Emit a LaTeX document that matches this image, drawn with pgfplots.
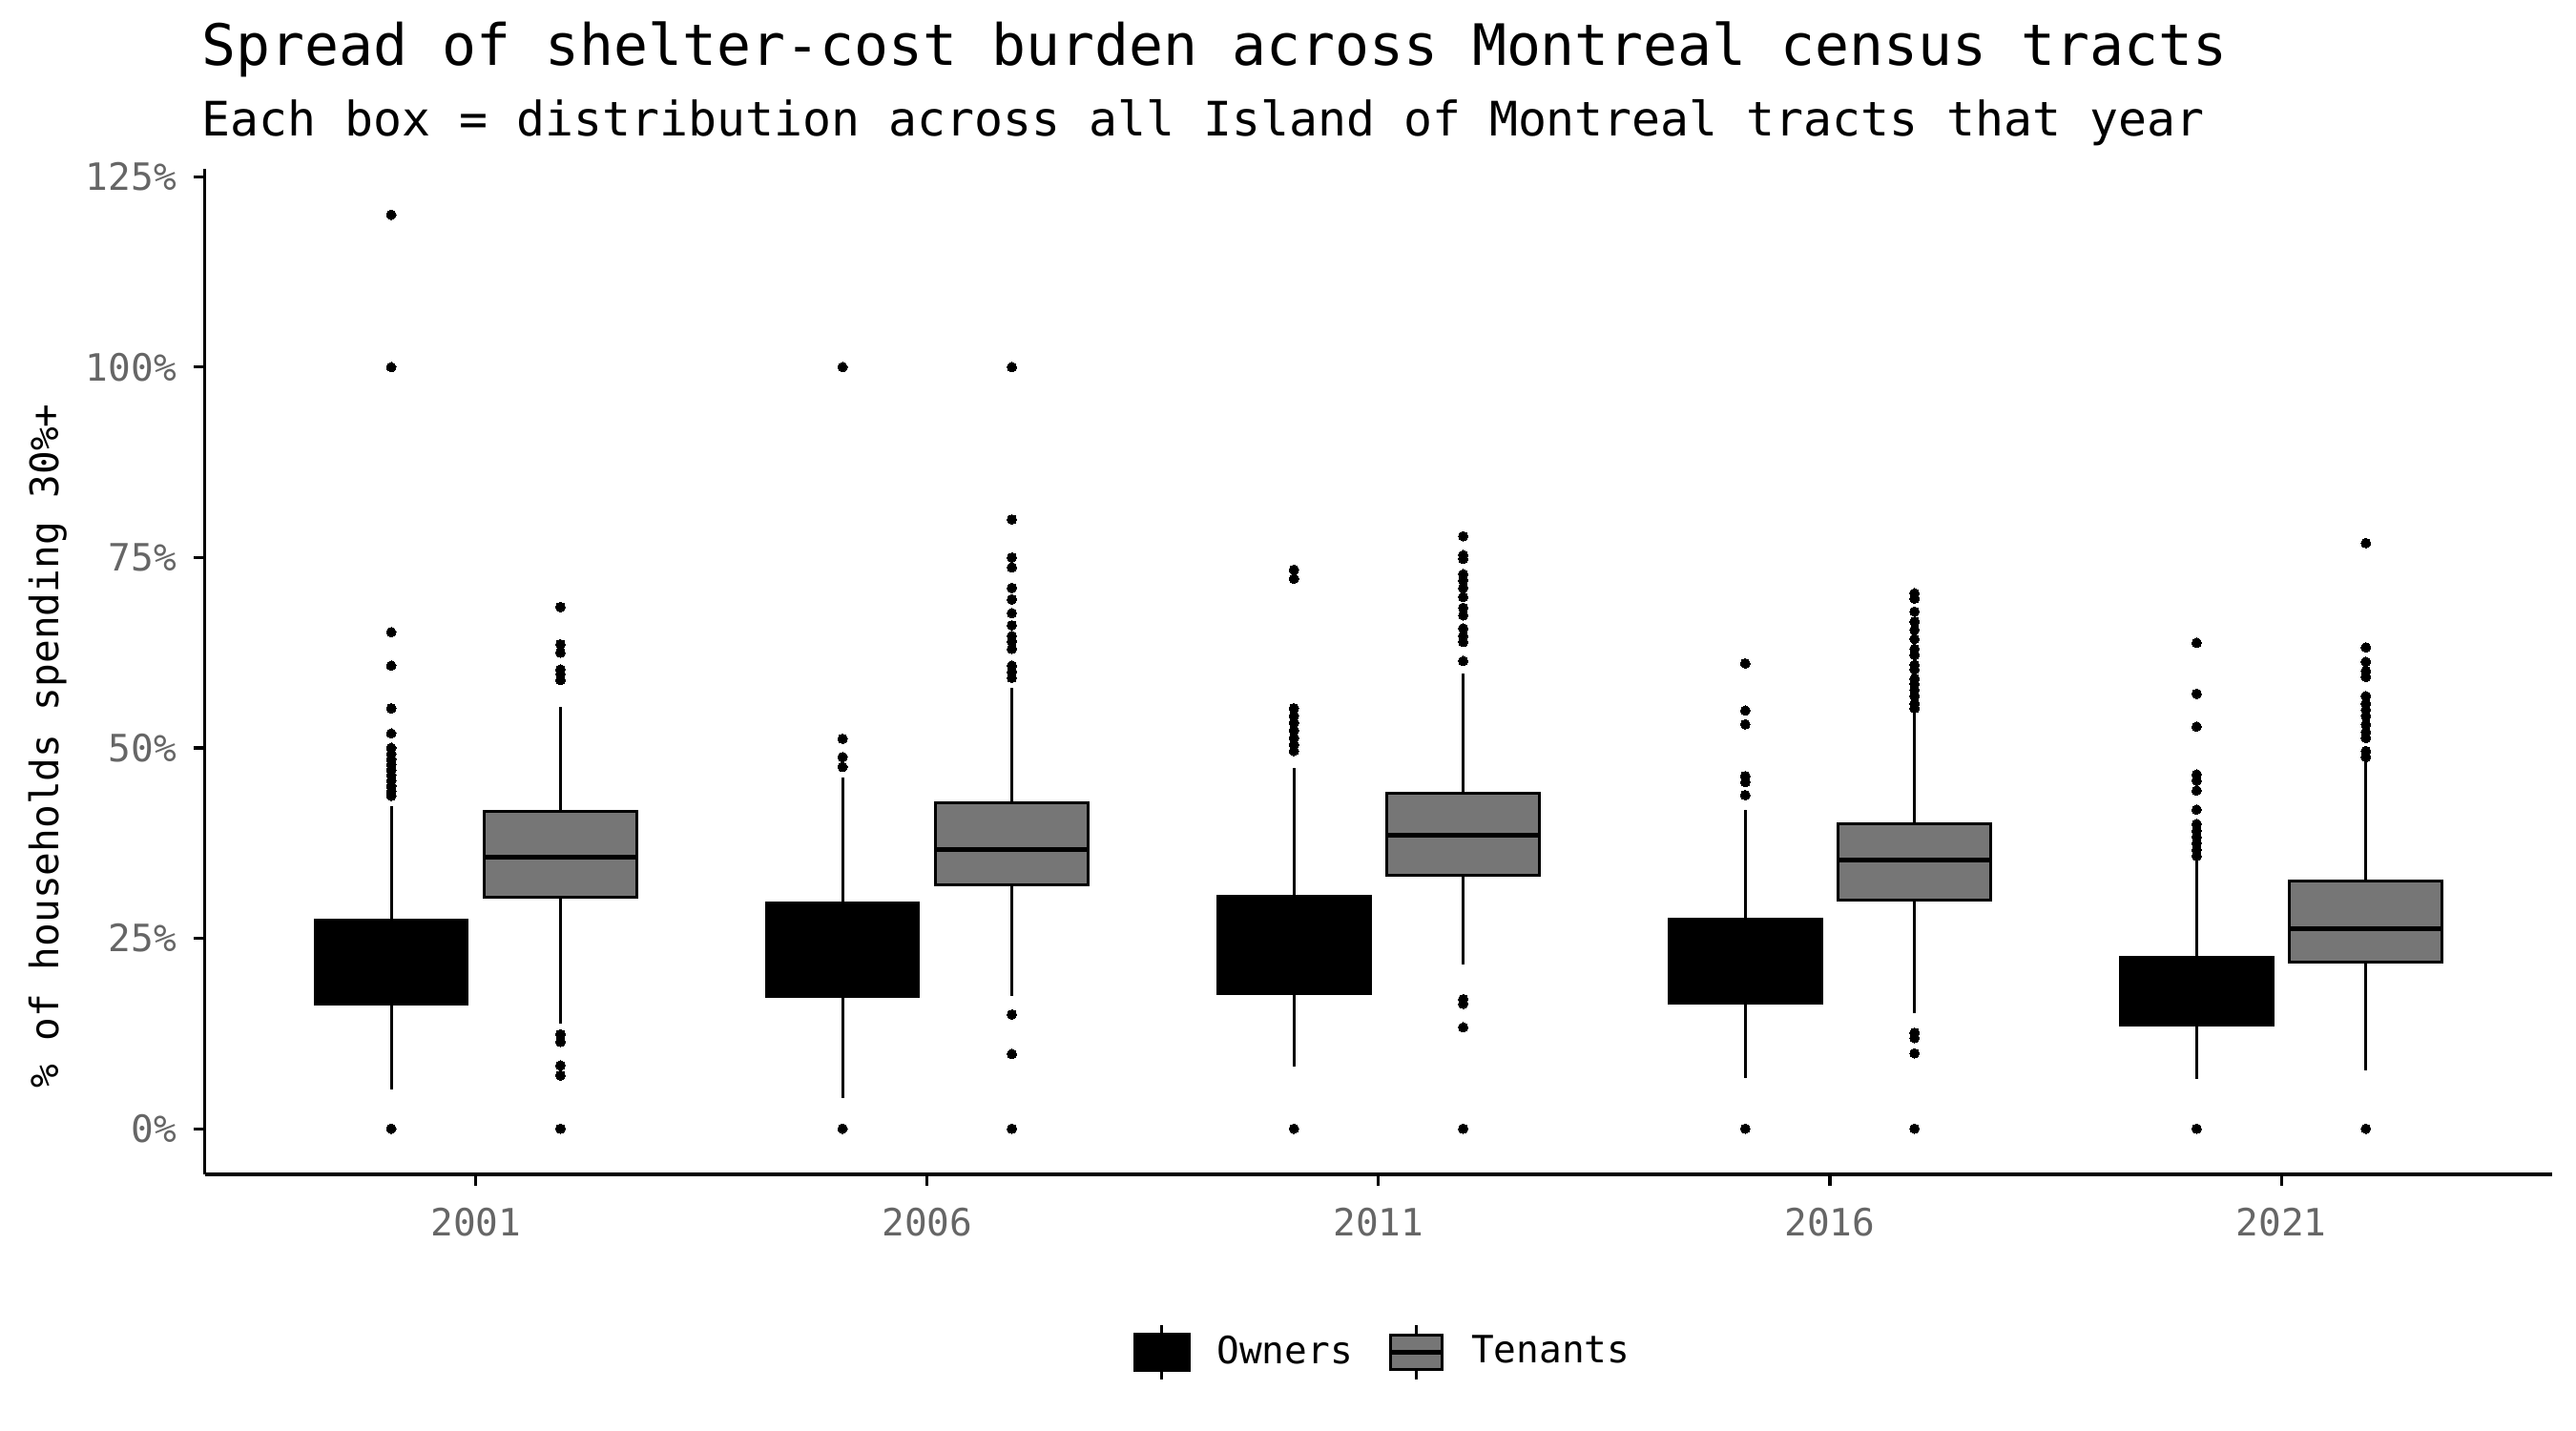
\documentclass[border=0pt]{standalone}
\usepackage{fontspec}
\setmainfont{DejaVu Sans Mono}
\usepackage{pgfplots}
\pgfplotsset{compat=1.18}
\usepgfplotslibrary{statistics}
\definecolor{tgray}{HTML}{767676}
\definecolor{ticktext}{HTML}{666666}
\pgfplotsset{
  ownbox/.style={boxplot/draw direction=y, boxplot/box extend=0.3375, boxplot/whisker extend=0,
    fill=black, draw=black, line width=0.72bp, solid,
    mark=*, mark size=1.2bp, mark options={fill=black, draw=black, line width=0pt},
    boxplot/every median/.style={line width=1.2bp}},
  tenbox/.style={boxplot/draw direction=y, boxplot/box extend=0.3375, boxplot/whisker extend=0,
    fill=tgray, draw=black, line width=0.72bp, solid,
    mark=*, mark size=1.2bp, mark options={fill=black, draw=black, line width=0pt},
    boxplot/every median/.style={line width=1.2bp}},
}
\begin{document}
\begin{tikzpicture}
\useasboundingbox (-51.58bp,-64.56bp) rectangle (596.42bp,295.44bp);
\begin{axis}[
  at={(0,0)}, anchor=south west,
  width=590.4bp, height=252.9bp, scale only axis,
  xmin=0.4, xmax=5.6, ymin=-6, ymax=126,
  axis x line*=bottom, axis y line*=left,
  axis line style={line width=0.75bp, -},
  xtick={1,2,3,4,5}, xticklabels={2001,2006,2011,2016,2021},
  ytick={0,25,50,75,100,125}, yticklabels={0\%,25\%,50\%,75\%,100\%,125\%},
  tick align=outside, major tick length=2.9bp,
  tick style={line width=0.75bp, black},
  ticklabel style={font=\fontsize{9.5}{11}\selectfont, text=ticktext},
  xticklabel style={yshift=-2bp},
  yticklabel style={xshift=-0.8bp},
  ylabel={\% of households spending 30\%+},
  every axis y label/.style={at={(axis description cs:-0.0622,0.426)}, rotate=90, anchor=base, font=\fontsize{9.9}{12}\selectfont},
  legend style={at={(0.503,-0.177)}, anchor=center, draw=none, fill=none,
    legend columns=2, font=\fontsize{9.5}{11}\selectfont,
    /tikz/every even column/.append style={column sep=7bp}},
  legend cell align=left,
]
% 2001
\addplot[ownbox, boxplot prepared={draw position=0.8125, lower whisker=5.1, lower quartile=16.4, median=21.5, upper quartile=27.4, upper whisker=42.3},
  legend image code/.code={
    \path[draw=none, fill=none] (0bp,0bp) -- (18.6bp,0bp);
    \draw[black, line width=0.72bp] (6.8bp,-6.85bp) -- (6.8bp,6.85bp);
    \fill[black] (0bp,-4.6bp) rectangle (13.6bp,4.6bp);}]
  table[row sep=\\, y index=0] {v\\ 0\\ 120\\ 100\\ 65.2\\ 60.8\\ 55.2\\ 51.9\\ 50.0\\ 49.2\\ 48.5\\ 47.8\\ 47.1\\ 46.4\\ 45.7\\ 45.0\\ 44.3\\ 43.7\\};
\addlegendentry{Owners}
\addplot[tenbox, boxplot prepared={draw position=1.1875, lower whisker=13.8, lower quartile=30.4, median=35.7, upper quartile=41.7, upper whisker=55.4},
  legend image code/.code={
    \path[draw=none, fill=none] (0bp,0bp) -- (18.6bp,0bp);
    \draw[black, line width=0.72bp] (6.8bp,-6.85bp) -- (6.8bp,6.85bp);
    \filldraw[fill=tgray, draw=black, line width=0.72bp] (0.36bp,-4.24bp) rectangle (13.24bp,4.24bp);
    \draw[black, line width=1.2bp] (0.36bp,0bp) -- (13.24bp,0bp);}]
  table[row sep=\\, y index=0] {v\\ 0\\ 7.0\\ 8.3\\ 11.4\\ 12.4\\ 58.9\\ 59.7\\ 60.3\\ 62.5\\ 63.6\\ 68.5\\};
\addlegendentry{Tenants}
% 2006
\addplot[ownbox, forget plot, boxplot prepared={draw position=1.8125, lower whisker=4.0, lower quartile=17.4, median=23.5, upper quartile=29.7, upper whisker=46.1}]
  table[row sep=\\, y index=0] {v\\ 0\\ 100\\ 47.5\\ 48.8\\ 51.2\\};
\addplot[tenbox, forget plot, boxplot prepared={draw position=2.1875, lower whisker=17.4, lower quartile=32.0, median=36.7, upper quartile=42.8, upper whisker=57.9}]
  table[row sep=\\, y index=0] {v\\ 0\\ 9.8\\ 15.0\\ 100\\ 59.2\\ 60.0\\ 60.8\\ 63.0\\ 64.0\\ 64.7\\ 66.1\\ 67.7\\ 69.5\\ 71.0\\ 73.7\\ 75.0\\ 80.0\\};
% 2011
\addplot[ownbox, forget plot, boxplot prepared={draw position=2.8125, lower whisker=8.1, lower quartile=17.8, median=24.0, upper quartile=30.5, upper whisker=47.4}]
  table[row sep=\\, y index=0] {v\\ 0\\ 49.6\\ 50.4\\ 51.3\\ 52.3\\ 53.3\\ 54.2\\ 55.2\\ 72.2\\ 73.4\\};
\addplot[tenbox, forget plot, boxplot prepared={draw position=3.1875, lower whisker=21.6, lower quartile=33.3, median=38.5, upper quartile=44.1, upper whisker=59.8}]
  table[row sep=\\, y index=0] {v\\ 0\\ 13.3\\ 16.4\\ 17.0\\ 61.4\\ 63.9\\ 64.7\\ 65.7\\ 67.4\\ 68.4\\ 69.8\\ 71.0\\ 72.0\\ 72.8\\ 74.8\\ 75.3\\ 77.8\\};
% 2016
\addplot[ownbox, forget plot, boxplot prepared={draw position=3.8125, lower whisker=6.6, lower quartile=16.5, median=21.5, upper quartile=27.5, upper whisker=41.9}]
  table[row sep=\\, y index=0] {v\\ 0\\ 43.8\\ 45.5\\ 46.3\\ 53.1\\ 54.9\\ 61.1\\};
\addplot[tenbox, forget plot, boxplot prepared={draw position=4.1875, lower whisker=15.2, lower quartile=30.0, median=35.3, upper quartile=40.0, upper whisker=54.6}]
  table[row sep=\\, y index=0] {v\\ 0\\ 9.9\\ 11.9\\ 12.6\\ 55.2\\ 55.8\\ 56.8\\ 57.6\\ 58.4\\ 59.1\\ 60.3\\ 60.9\\ 62.2\\ 63.0\\ 64.3\\ 65.5\\ 66.6\\ 67.9\\ 69.6\\ 70.3\\};
% 2021
\addplot[ownbox, forget plot, boxplot prepared={draw position=4.8125, lower whisker=6.5, lower quartile=13.6, median=18.0, upper quartile=22.5, upper whisker=35.2}]
  table[row sep=\\, y index=0] {v\\ 0\\ 35.8\\ 36.6\\ 37.5\\ 38.3\\ 39.1\\ 40.0\\ 41.9\\ 44.4\\ 45.7\\ 46.5\\ 52.8\\ 57.1\\ 63.8\\};
\addplot[tenbox, forget plot, boxplot prepared={draw position=5.1875, lower whisker=7.6, lower quartile=21.9, median=26.2, upper quartile=32.5, upper whisker=48.2}]
  table[row sep=\\, y index=0] {v\\ 0\\ 48.8\\ 49.6\\ 51.3\\ 52.1\\ 53.1\\ 54.2\\ 55.0\\ 55.8\\ 56.8\\ 59.3\\ 60.1\\ 61.3\\ 63.2\\ 76.9\\};
\end{axis}
\node[anchor=base west, inner sep=0pt, font=\fontsize{14.4}{17}\selectfont] at (-1bp,279.1bp) {Spread of shelter-cost burden across Montreal census tracts};
\node[anchor=base west, inner sep=0pt, font=\fontsize{12}{14}\selectfont] at (-1bp,261.2bp) {Each box = distribution across all Island of Montreal tracts that year};
\end{tikzpicture}
\end{document}
